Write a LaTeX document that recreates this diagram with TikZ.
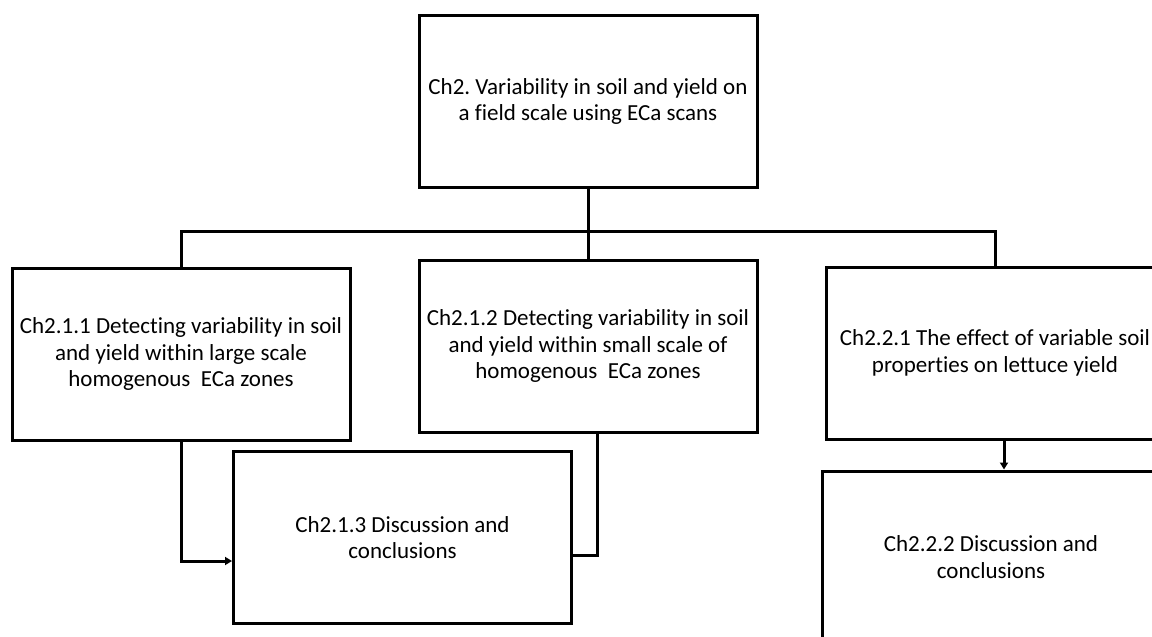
\documentclass[tikz,border=0pt]{standalone}
\usepackage{fontspec}
\setmainfont{Carlito}[Ligatures={NoCommon}]
\usepackage{tikz}
\usetikzlibrary{arrows.meta}
\frenchspacing

\begin{document}
\begin{tikzpicture}
  [x=1pt,y=-1pt,
   chbox/.style={draw,line width=3pt,minimum width=338pt,minimum height=172pt,
     inner sep=0pt,align=center,font=\fontsize{23}{26.5}\selectfont},
   link/.style={line width=3pt},
   tip/.style={line width=3pt,-{Triangle[length=7pt,width=8pt]}}]

  \useasboundingbox (0,0) rectangle (1152,637);
  \clip (0,0) rectangle (1152,637);

  \node[chbox] (ch2) at (588,101.5) {Ch2. Variability in soil and yield on\\a field scale using ECa scans};
  \node[chbox] (ch211) at (181,354) {Ch2.1.1 Detecting variability in soil\\and yield within large scale\\homogenous\ \ ECa zones};
  \node[chbox] (ch212) at (588,346) {Ch2.1.2 Detecting variability in soil\\and yield within small scale of\\homogenous\ \ ECa zones};
  \node[chbox] (ch221) at (995,353) {Ch2.2.1 The effect of variable soil\\properties on lettuce yield};
  \node[chbox] (ch213) at (402.5,537.5) {Ch2.1.3 Discussion and\\conclusions};
  \node[chbox] (ch222) at (991,557) {Ch2.2.2 Discussion and\\conclusions};

  \coordinate (busL) at (181,231);
  \coordinate (busR) at (995,231);

  \draw[link] (ch2.south) -- (ch212.north);
  \draw[link] (ch211.north) -- (busL) -- (busR) -- (ch221.north);
  \draw[tip] (ch211.south) |- ([yshift=-23.5pt]ch213.west);
  \draw[link] ([xshift=9pt]ch212.south) |- ([yshift=-17.5pt]ch213.east);
  \draw[tip] ([xshift=9pt]ch221.south) -- ([xshift=9pt]ch221.south |- ch222.north);
\end{tikzpicture}
\end{document}
